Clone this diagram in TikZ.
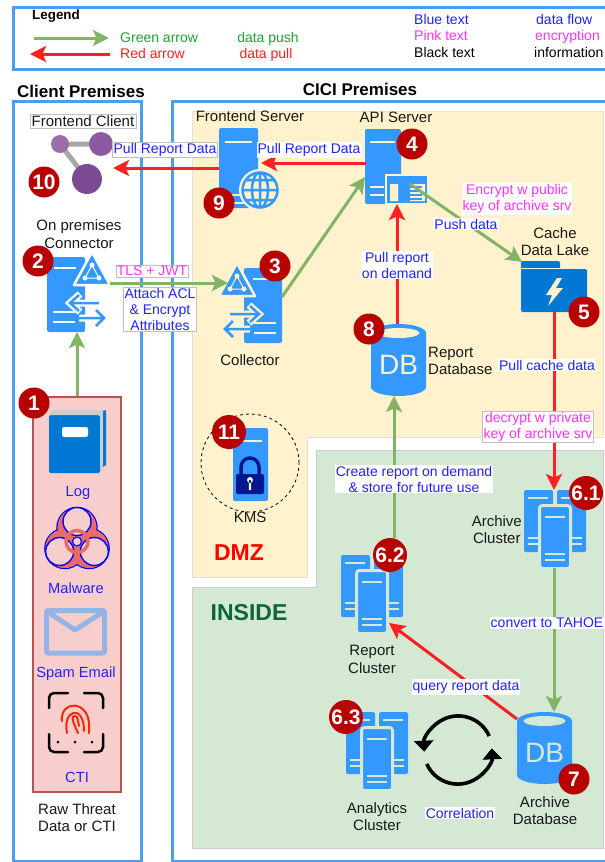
\documentclass[tikz,border=0pt]{standalone}
\usepackage{fontspec}
\setmainfont{Liberation Sans}
\usepackage{xcolor}
\usetikzlibrary{positioning,calc,arrows.meta}

\definecolor{srvblue}{HTML}{3399FF}
\definecolor{framblue}{HTML}{4D9DEE}
\definecolor{lakeblue}{HTML}{0078D4}
\definecolor{dmzfill}{HTML}{FFF2CC}
\definecolor{insfill}{HTML}{D5E8D4}
\definecolor{pushgreen}{HTML}{82B366}
\definecolor{pullred}{HTML}{FF2020}
\definecolor{flowblue}{HTML}{2222FF}
\definecolor{encpink}{HTML}{FF33FF}
\definecolor{badgered}{HTML}{B80000}
\definecolor{rawfill}{HTML}{F8CECC}
\definecolor{rawline}{HTML}{B85450}
\definecolor{hazfill}{HTML}{EA6B66}
\definecolor{mailblue}{HTML}{95B3E4}
\definecolor{lockblue}{HTML}{00188F}
\definecolor{insgreen}{HTML}{0B6638}
\definecolor{legendgreen}{HTML}{22A02F}
\definecolor{nodelight}{HTML}{9C6DA8}
\definecolor{nodemid}{HTML}{8C5AA0}
\definecolor{nodedark}{HTML}{7A4A93}

\tikzset{
  frame/.style={draw=framblue, line width=3},
  iconbox/.style={inner sep=0, outer sep=0},
  pusharrow/.style={draw=pushgreen, line width=3, -{Stealth[length=16,width=16,inset=3.5]}},
  pullarrow/.style={draw=pullred, line width=3, -{Stealth[length=16,width=16,inset=3.5]}},
  looparrow/.style={draw=black, line width=3.6, -{Triangle[length=11,width=19]}},
  info/.style={inner sep=0, align=center, text=black!90},
  flowtext/.style={fill=white, inner sep=1, align=center, text=flowblue, font=\fontsize{14}{16}\selectfont},
  enctext/.style={flowtext, text=encpink},
  boxed/.style={draw=black!25, line width=0.5},
  plain/.style={inner sep=0, text height=10, text depth=0, font=\fontsize{14}{16}\selectfont},
  itemname/.style={inner sep=0, text=flowblue, text height=10.5, text depth=0, font=\fontsize{14.7}{16}\selectfont},
  badge/.style={circle, fill=badgered, text=white, inner sep=0, minimum size=31,
    font=\bfseries\fontsize{21}{21}\selectfont},
  badgewide/.style={badge, minimum size=34},
  slot/.style={line width=2.5}
}

\newcommand{\clustericon}[3]{
  \begin{scope}[shift={(#1,#2)}]
    \fill[srvblue, rounded corners=1.5] (0,0) rectangle (29,62);
    \fill[srvblue, rounded corners=1.5] (33,0) rectangle (62,62);
    \draw[#3, slot] (4,8) -- (24,8) (37,8) -- (57,8);
    \draw[#3, slot] (4,48) -- (14,48) (4,54) -- (14,54) (48,48) -- (58,48) (48,54) -- (58,54);
    \fill[srvblue, draw=#3, line width=3, rounded corners=3] (15.5,15.5) rectangle (46.5,78.5);
    \draw[#3, slot] (21,27) -- (41,27) (21,64) -- (41,64) (21,70) -- (41,70);
  \end{scope}
}

\newcommand{\gwicon}[4]{
  \begin{scope}[shift={(#1,#2)}, xscale=#3]
    \fill[srvblue, rounded corners=2] (0,0) rectangle (38,75);
    \draw[#4, slot] (7,11) -- (29,11) (6,55) -- (28,55) (6,65) -- (28,65);
    \draw[#4, line width=7] (33,37) -- (23,46) -- (33,55) (23,46) -- (52,46);
    \draw[#4, line width=7] (48,52) -- (57,61) -- (48,70) (32,61) -- (57,61);
    \draw[srvblue, line width=2.5] (32,38) -- (23,46) -- (32,54) (23,46) -- (52,46);
    \draw[srvblue, line width=2.5] (49,53) -- (57,61) -- (49,69) (32,61) -- (57,61);
    \fill[srvblue, draw=#4, line width=2.5, line join=round] (45,-5) -- (63,28) -- (27,28) -- cycle;
    \draw[#4, line width=1] (45,8) -- (38,21) -- (52,21) -- cycle;
    \fill[#4] (45,8) circle[radius=2.5] (38,21) circle[radius=2.5] (52,21) circle[radius=2.5];
  \end{scope}
}

\newcommand{\dbicon}[4]{
  \begin{scope}[shift={(#1,#2)}]
    \fill[srvblue] (-27.5,9) arc[start angle=180, end angle=0, x radius=27.5pt, y radius=9pt]
      -- (27.5,63) arc[start angle=0, end angle=-180, x radius=27.5pt, y radius=9pt] -- cycle;
    \fill[#3] (0,9) ellipse[x radius=21pt, y radius=5pt];
    \node[text=#3, inner sep=0, font=\fontsize{28}{28}\selectfont] (#4) at (0,41) {DB};
  \end{scope}
}

\begin{document}
\begin{tikzpicture}[x=1pt, y=-1pt, font=\fontsize{15}{17.3}\selectfont]
  \useasboundingbox (0,0) rectangle (605,862);

  \draw[frame] (13.5,7) rectangle (612,69);
  \draw[frame] (13,101) rectangle (141,861);
  \draw[frame] (172,101) rectangle (612,861);

  \fill[dmzfill, draw=black!12, line width=0.7] (192,111) -- (603,111) -- (603,437) -- (307,437)
    -- (307,577) -- (192,577) -- cycle;
  \fill[insfill, draw=black!20, line width=0.7] (192,587) -- (316,587) -- (316,450) -- (603,450)
    -- (603,848) -- (192,848) -- cycle;

  \node[inner sep=0, font=\bfseries\fontsize{13.4}{16}\selectfont] (legendtitle) at (56,16) {Legend};
  \node[inner sep=0, font=\bfseries\fontsize{17}{19}\selectfont] (clienttitle) at (81,91) {Client Premises};
  \node[inner sep=0, font=\bfseries\fontsize{17}{19}\selectfont] (cicititle) at (360,89) {CICI Premises};

  \node[plain, text=legendgreen, anchor=west] (greenname) at (120,37) {Green arrow};
  \node[plain, text=pullred, anchor=west] (redname) at (120,53) {Red arrow};
  \node[plain, text=legendgreen] (greenmean) at (268,37) {data push};
  \node[plain, text=pullred] (redmean) at (266,53) {data pull};
  \node[plain, text=flowblue, anchor=west] (bluename) at (414,19) {Blue text};
  \node[plain, text=encpink, anchor=west] (pinkname) at (414,35) {Pink text};
  \node[plain, anchor=west] (blackname) at (414,52) {Black text};
  \node[plain, text=flowblue, anchor=west] (bluemean) at (536,19) {data flow};
  \node[plain, text=encpink, anchor=west] (pinkmean) at (535,35) {encryption};
  \node[plain, anchor=west] (blackmean) at (534,52) {information};

  \coordinate (greenfrom) at (34,38);
  \coordinate (greento) at (109,38);
  \coordinate (redfrom) at (110,54);
  \coordinate (redto) at (30,54);
  \draw[pusharrow] (greenfrom) -- (greento);
  \draw[pullarrow] (redfrom) -- (redto);

  \node[draw=rawline, fill=rawfill, line width=2.5, minimum width=88, minimum height=395, inner sep=0] (rawbox) at (77,594.5) {};

  \fill[lakeblue, rounded corners=1.5] (49,415) rectangle (100,473);
  \fill[black!20] (49,415) -- (53,410) -- (106,410) -- (103,414) -- (103,467) -- (100,473) -- (100,415) -- cycle;
  \fill[lakeblue] (103,411) -- (106,410) -- (106,465) -- (103,467) -- cycle;
  \fill[white, rounded corners=2] (62,427) rectangle (88,437);

  \begin{scope}[shift={(77,541.5)}]
    \foreach \a in {270,150,30} {
      \draw[blue, line width=1.4] (\a:14) circle[radius=20];
    }
    \foreach \a in {270,150,30} {
      \fill[hazfill] (\a:14) circle[radius=19.5];
    }
    \foreach \a in {270,150,30} {
      \fill[rawfill, draw=blue, line width=1.4] (\a:20) circle[radius=14];
    }
    \draw[hazfill, line width=3.5] (0,0) circle[radius=11];
    \fill[rawfill] (0,0) circle[radius=5];
    \draw[blue, line width=1.2] (0,0) circle[radius=4.5];
  \end{scope}

  \draw[mailblue, line width=5, rounded corners=2] (46.5,610.5) rectangle (104.5,653);
  \draw[mailblue, line width=5, line join=round] (48,612) -- (75,630) -- (103,612);

  \draw[black, line width=2.5, line cap=round, rounded corners=5] (49,708) -- (49,693) -- (68,693);
  \draw[black, line width=2.5, line cap=round, rounded corners=5] (84,693) -- (103,693) -- (103,708);
  \draw[black, line width=2.5, line cap=round, rounded corners=5] (49,734) -- (49,752) -- (68,752);
  \draw[black, line width=2.5, line cap=round, rounded corners=5] (84,752) -- (103,752) -- (103,734);
  \fill[black] (58,742) circle[radius=1.5] (75,742) circle[radius=1.5] (92,742) circle[radius=1.5];
  \draw[red!70!orange, line width=2, line cap=round] (62,721) .. controls (60,700) and (88,700) .. (89,724) -- (89,733);
  \draw[red!70!orange, line width=2, line cap=round] (67,733) .. controls (62,710) and (84,703) .. (84,731);
  \draw[red!70!orange, line width=2, line cap=round] (78,733) .. controls (72,720) and (71,716) .. (75,716) .. controls (78,716) and (78,722) .. (79,726);

  \draw[black!35, line width=5] (60,144) -- (101,144) (60,144) -- (87,179);
  \fill[nodelight] (60,144) circle[radius=9];
  \fill[nodemid] (101,144) circle[radius=12];
  \fill[nodedark] (87,179) circle[radius=15];
  \node[iconbox, minimum width=62, minimum height=62] (client) at (82,163) {};

  \gwicon{47}{257}{1}{white}
  \node[iconbox, minimum width=62, minimum height=79] (gateway) at (77,292.5) {};
  \gwicon{282}{268}{-1}{dmzfill}
  \node[iconbox, minimum width=62, minimum height=78] (collector) at (251,304) {};

  \fill[srvblue, rounded corners=2] (219,128) rectangle (258,208);
  \draw[dmzfill, slot] (225,142) -- (252,142) (225,195) -- (245,195) (225,203) -- (245,203);
  \fill[dmzfill] (260,190) circle[radius=21];
  \draw[srvblue, line width=2.5] (260,190) circle[radius=17.5] (260,190) ellipse[x radius=8pt, y radius=17.5pt]
    (260,172) -- (260,208) (243,190) -- (277,190) (246,180) -- (274,180) (246,200) -- (274,200);
  \node[iconbox, minimum width=60, minimum height=80] (frontsrv) at (249,168) {};

  \fill[srvblue, rounded corners=2] (365,129) rectangle (401,204);
  \draw[dmzfill, slot] (370,142) -- (395,142) (370,187) -- (384,187) (370,195) -- (384,195);
  \fill[srvblue, draw=dmzfill, line width=2] (386,175) rectangle (428,204);
  \fill[dmzfill] (390,184) rectangle (398,201) (401,184) rectangle (425,201);
  \fill[srvblue] (401,184) rectangle (410,201);
  \draw[srvblue, line width=1.3] (410,187) -- (422,187) (410,191) -- (422,191) (410,195) -- (422,195) (410,199) -- (422,199);
  \node[iconbox, minimum width=64, minimum height=75] (apisrv) at (397,166.5) {};

  \fill[lakeblue, rounded corners=2] (521,261) rectangle (560,272);
  \fill[lakeblue, rounded corners=2] (521,269) rectangle (587,312);
  \draw[dmzfill, line width=0.6] (521,268.5) -- (560,268.5);
  \fill[dmzfill] (557,278) -- (546,295) -- (552,295) -- (548,306) -- (563,288) -- (556,288) -- (562,278) -- cycle;
  \node[iconbox, minimum width=66, minimum height=51] (lake) at (554,286.5) {};

  \dbicon{398.5}{324}{dmzfill}{reportdbtext}
  \node[iconbox, minimum width=55, minimum height=72] (reportdb) at (398.5,360) {};
  \dbicon{544.5}{712}{insfill}{archivedbtext}
  \node[iconbox, minimum width=55, minimum height=73] (archivedb) at (544.5,748.5) {};

  \clustericon{524}{490}{insfill}
  \node[iconbox, minimum width=62, minimum height=78] (archivecl) at (554,529) {};
  \clustericon{341}{555}{insfill}
  \node[iconbox, minimum width=62, minimum height=78] (reportcl) at (372,594) {};
  \clustericon{346}{712}{insfill}
  \node[iconbox, minimum width=62, minimum height=78] (analyticscl) at (377,751) {};

  \fill[srvblue, rounded corners=2] (233,428) rectangle (268,501);
  \draw[dmzfill, slot] (240,441) -- (262,441);
  \draw[lockblue, line width=3.5] (241,476) -- (241,467) arc[start angle=180, end angle=0, radius=9pt] -- (259,476);
  \fill[lockblue, rounded corners=2] (236,474) rectangle (264,494);
  \fill[dmzfill] (250,480) circle[radius=3] (248.8,480) rectangle (251.2,490);
  \node[circle, draw=black, dashed, line width=0.8, minimum size=98, inner sep=0] (kmsring) at (250,463) {};

  \coordinate (gwport) at (110,283);
  \coordinate (colin) at (228,283);
  \coordinate (colout) at (282,297);
  \coordinate (apiin) at (365,177);
  \coordinate (apiout) at (366,163);
  \coordinate (frontin) at (261,163);
  \coordinate (apipush) at (410,184);
  \coordinate (lakein) at (522,262);
  \coordinate (rcport) at (394,538);
  \coordinate (rcin) at (389,623);

  \draw[pusharrow] (rawbox.north) -- (gateway.south);
  \draw[pusharrow] (gwport) -- (colin);
  \draw[pusharrow] (colout) -- (apiin);
  \draw[pullarrow] (apiout) -- (frontin);
  \draw[pullarrow] (frontsrv.west) -- (frontsrv.west -| client.east);
  \draw[pusharrow] (apipush) -- (lakein);
  \draw[pullarrow] (reportdb.north -| apisrv.south) -- (apisrv.south);
  \draw[pullarrow] (lake.south) -- (lake.south |- archivecl.north);
  \draw[pusharrow] (rcport) -- (rcport |- reportdb.south);
  \draw[pusharrow] (archivecl.south) -- (archivecl.south |- archivedb.north);
  \draw[pullarrow] (archivedb.133) -- (rcin);

  \node[circle, minimum size=68, inner sep=0] (corrloop) at (458,750) {};
  \draw[looparrow] (corrloop.24) arc[start angle=24, end angle=183, radius=34pt];
  \draw[looparrow] (corrloop.204) arc[start angle=204, end angle=363, radius=34pt];

  \node[flowtext, boxed] (pullfront) at (165,150) {Pull Report Data};
  \node[flowtext] (pullapi) at (309,150) {Pull Report Data};
  \node[enctext, boxed] (tlstext) at (152,271) {TLS + JWT};
  \node[flowtext, boxed] (acltext) at (160,309) {Attach ACL\\\& Encrypt\\Attributes};
  \node[enctext] (enctxt) at (517,199) {Encrypt w public\\key of archive srv};
  \node[flowtext] (pushtxt) at (466,224) {Push data};
  \node[flowtext] (demandtxt) at (397,265) {Pull report\\on demand};
  \node[flowtext] (cachetxt) at (547,365) {Pull cache data};
  \node[enctext, boxed] (dectxt) at (538,427) {decrypt w private\\key of archive srv};
  \node[flowtext] (createtxt) at (414,479) {Create report on demand\\\& store for future use};
  \node[flowtext] (tahoetxt) at (547,623) {convert to TAHOE};
  \node[flowtext] (querytxt) at (466,687) {query report data};
  \node[flowtext] (corrtxt) at (460,813) {Correlation};

  \node[info, fill=white, draw=black!25, line width=0.5, inner sep=1.5] (clientname) at (83,121) {Frontend Client};
  \node[info] (frontname) at (250,116) {Frontend Server};
  \node[info] (apiname) at (396,117) {API Server};
  \node[info] (gwname) at (79,234) {On premises\\Connector};
  \node[info] (colname) at (250,360) {Collector};
  \node[info] (lakename) at (555,241.5) {Cache\\Data Lake};
  \node[info, anchor=west, align=left] (rdbname) at (428,361) {Report\\Database};
  \node[info, anchor=east, align=center] (arcname) at (522,529.5) {Archive\\Cluster};
  \node[info] (rclname) at (372,659.5) {Report\\Cluster};
  \node[info] (anaame) at (377,816.5) {Analytics\\Cluster};
  \node[info] (adbname) at (545,810.5) {Archive\\Database};
  \node[info] (rawname) at (77,817.5) {Raw Threat\\Data or CTI};
  \node[info] (kmsname) at (250,517) {KMS};

  \node[itemname] (logname) at (78,491) {Log};
  \node[itemname] (malname) at (76,588) {Malware};
  \node[itemname] (spamname) at (76,672) {Spam Email};
  \node[itemname] (ctiname) at (77,777) {CTI};

  \node[inner sep=0, text=red, font=\bfseries\fontsize{23}{23}\selectfont] (dmzname) at (239,553) {DMZ};
  \node[inner sep=0, text=insgreen, font=\bfseries\fontsize{23}{23}\selectfont] (insname) at (249,613) {INSIDE};

  \node[badge] (b1) at (34,403) {1};
  \node[badge] (b2) at (38,261) {2};
  \node[badge] (b3) at (275,266) {3};
  \node[badge] (b4) at (412,144) {4};
  \node[badge] (b5) at (584,312) {5};
  \node[badgewide] (b61) at (586,493) {6.1};
  \node[badgewide] (b62) at (390,555) {6.2};
  \node[badgewide] (b63) at (346,717) {6.3};
  \node[badge] (b7) at (574,779) {7};
  \node[badge] (b8) at (369,329) {8};
  \node[badge] (b9) at (219,203) {9};
  \node[badge] (b10) at (44,182) {10};
  \node[badgewide] (b11) at (229,432) {11};
\end{tikzpicture}
\end{document}
